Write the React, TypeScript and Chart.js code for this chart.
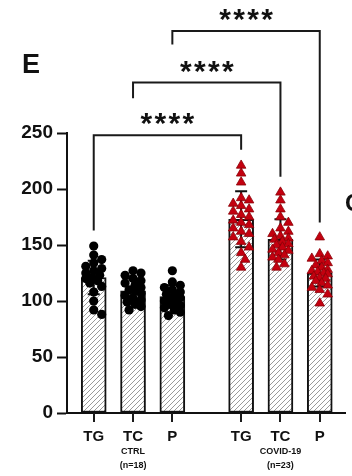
import { useEffect, useRef } from 'react';
import { Chart, registerables } from 'chart.js';

Chart.register(...registerables);

// ---- data ----
const categories = ['TG', 'TC', 'P', 'TG', 'TC', 'P'];
const groupNames = ['CTRL', 'COVID-19'];
const groupSizes = ['(n=18)', '(n=23)'];
const means = [121, 109, 104, 173, 155, 125];
const sds = [15, 11, 10, 25, 18, 12];

const ctrlTG = [149, 141, 137, 134, 131, 129, 127, 125, 123, 121, 120, 118, 116, 113, 108, 100, 92, 88];
const ctrlTC = [127, 125, 123, 120, 118, 116, 114, 112, 110, 109, 107, 105, 103, 101, 99, 97, 95, 92];
const ctrlP = [127, 117, 114, 112, 110, 108, 106, 105, 103, 102, 100, 99, 97, 96, 94, 92, 90, 87];
const covTG = [221, 214, 206, 192, 190, 187, 185, 182, 180, 177, 175, 172, 170, 168, 165, 162, 160, 157, 153, 148, 143, 137, 130];
const covTC = [197, 190, 182, 175, 170, 165, 162, 160, 158, 156, 155, 153, 151, 150, 148, 146, 145, 143, 141, 139, 137, 133, 130];
const covP = [157, 142, 140, 138, 136, 134, 132, 130, 128, 127, 126, 125, 124, 122, 121, 120, 118, 116, 114, 112, 110, 106, 98];
const pointSets = [ctrlTG, ctrlTC, ctrlP, covTG, covTC, covP];

const yTicks = [0, 50, 100, 150, 200, 250];

// significance comparisons (category indexes), bracket level and leg ends in y units
const bracketPairs = [[0, 3], [1, 4], [2, 5]];
const bracketLevels = [248, 295, 341];
const bracketLeftEnds = [163, 281, 329];
const bracketRightEnds = [235, 211, 170];
const bracketLabels = ['****', '****', '****'];

const panelLetter = 'E';

// ---- helpers ----
const GROUP_STEP = 3.75;
const slot = (k: number) => Math.floor(k / 3) * GROUP_STEP + (k % 3) + 1;
const positions = categories.map((_, k) => slot(k));

const PX_PER_X = 39.6;
const PX_PER_Y = 1.12;
function swarm(values: number[]): number[] {
  const placed: { x: number; y: number }[] = [];
  const cands = [0, 4, -4, 8, -8, 2, -2, 6, -6];
  return values.map((v) => {
    const y = v * PX_PER_Y;
    let best = 0;
    let bestD = -1;
    for (const c of cands) {
      let md = Infinity;
      for (const p of placed) md = Math.min(md, Math.hypot(p.x - c, p.y - y));
      if (md >= 7) { best = c; bestD = md; break; }
      if (md > bestD) { bestD = md; best = c; }
    }
    placed.push({ x: best, y });
    return best / PX_PER_X;
  });
}

const FONT = '"Liberation Sans", Arial, Helvetica, sans-serif';

function makeHatch(): CanvasPattern | string {
  const c = document.createElement('canvas');
  c.width = 5;
  c.height = 5;
  const g = c.getContext('2d');
  if (!g) return '#ccc';
  g.fillStyle = '#ffffff';
  g.fillRect(0, 0, 5, 5);
  g.strokeStyle = '#9a9a9a';
  g.lineWidth = 1;
  g.beginPath();
  g.moveTo(-1, 6); g.lineTo(6, -1);
  g.moveTo(-1, 1); g.lineTo(1, -1);
  g.moveTo(4, 6); g.lineTo(6, 4);
  g.stroke();
  return g.createPattern(c, 'repeat') || '#ccc';
}

export default function App() {
  const ref = useRef<HTMLCanvasElement | null>(null);

  useEffect(() => {
    if (!ref.current) return;
    const hatch = makeHatch();

    const errorBars = {
      id: 'errorBars',
      afterDatasetDraw(chart: any, args: any) {
        if (args.index !== 0) return;
        const { ctx, scales } = chart;
        ctx.save();
        ctx.strokeStyle = '#111';
        ctx.lineWidth = 2;
        means.forEach((m, k) => {
          const x = scales.x.getPixelForValue(positions[k]);
          const yt = scales.y.getPixelForValue(m + sds[k]);
          const yb = scales.y.getPixelForValue(m - sds[k]);
          ctx.beginPath();
          ctx.moveTo(x, yt); ctx.lineTo(x, yb);
          ctx.moveTo(x - 6, yt); ctx.lineTo(x + 6, yt);
          ctx.moveTo(x - 6, yb); ctx.lineTo(x + 6, yb);
          ctx.stroke();
        });
        ctx.restore();
      },
    };

    const extras = {
      id: 'extras',
      afterDraw(chart: any) {
        const { ctx, scales, chartArea } = chart;
        const xs = scales.x;
        const ys = scales.y;
        ctx.save();
        ctx.fillStyle = '#111';
        ctx.strokeStyle = '#1a1a1a';
        // x tick marks
        ctx.lineWidth = 2;
        ctx.beginPath();
        positions.forEach((p) => {
          const x = Math.round(xs.getPixelForValue(p));
          ctx.moveTo(x, chartArea.bottom);
          ctx.lineTo(x, chartArea.bottom + 9);
        });
        ctx.stroke();
        // group labels
        ctx.textAlign = 'center';
        ctx.textBaseline = 'middle';
        ctx.font = `bold 9px ${FONT}`;
        groupNames.forEach((name, g) => {
          const x = xs.getPixelForValue(positions[g * 3 + 1]);
          ctx.fillText(name, x, 452);
          ctx.fillText(groupSizes[g], x, 466);
        });
        // brackets
        ctx.lineWidth = 2;
        bracketPairs.forEach(([a, b], i) => {
          const xa = xs.getPixelForValue(positions[a]);
          const xb = xs.getPixelForValue(positions[b]);
          const yl = ys.getPixelForValue(bracketLevels[i]);
          ctx.beginPath();
          ctx.moveTo(xa, ys.getPixelForValue(bracketLeftEnds[i]));
          ctx.lineTo(xa, yl);
          ctx.lineTo(xb, yl);
          ctx.lineTo(xb, ys.getPixelForValue(bracketRightEnds[i]));
          ctx.stroke();
          // stars
          ctx.font = `bold 30px ${FONT}`;
          ctx.textAlign = 'center';
          ctx.textBaseline = 'alphabetic';
          const m = ctx.measureText('*');
          const cy = yl - 16;
          const base = cy + (m.actualBoundingBoxAscent - m.actualBoundingBoxDescent) / 2;
          const label = bracketLabels[i];
          const n = label.length;
          const step = 14;
          const cx = (xa + xb) / 2;
          for (let s = 0; s < n; s++) {
            ctx.fillText(label[s], cx + (s - (n - 1) / 2) * step, base);
          }
        });
        // panel letters
        ctx.textAlign = 'left';
        ctx.textBaseline = 'middle';
        ctx.font = `bold 27px ${FONT}`;
        ctx.fillText(panelLetter, 22, 66);
        ctx.font = `bold 24px ${FONT}`;
        ctx.fillText('C', 345, 204);
        ctx.restore();
      },
    };

    const barData = means.map((m, k) => ({ x: positions[k], y: m }));
    const pointDatasets = pointSets.map((vals, k) => {
      const offs = swarm(vals);
      const covid = k >= 3;
      return {
        type: 'scatter' as const,
        order: 1,
        data: vals.map((v, j) => ({ x: positions[k] + offs[j], y: v })),
        pointStyle: covid ? 'triangle' : 'circle',
        pointRadius: covid ? 5.5 : 4.6,
        backgroundColor: covid ? '#c4000f' : '#000000',
        borderColor: covid ? '#8a0008' : '#000000',
        borderWidth: covid ? 0.8 : 0,
        pointHoverRadius: 0,
      };
    });

    const chart = new Chart(ref.current, {
      type: 'bar',
      data: {
        datasets: [
          {
            type: 'bar',
            order: 2,
            data: barData as any,
            backgroundColor: hatch as any,
            borderColor: '#111',
            borderWidth: 2,
            borderSkipped: false,
            barThickness: 25,
          },
          ...(pointDatasets as any),
        ],
      },
      options: {
        animation: false,
        responsive: false,
        maintainAspectRatio: false,
        layout: { padding: { top: 133, right: 4, left: 0, bottom: 0 } },
        plugins: { legend: { display: false }, tooltip: { enabled: false } },
        scales: {
          x: {
            type: 'linear',
            min: 0.32,
            max: 7.41,
            offset: false,
            afterBuildTicks: (s: any) => {
              s.ticks = positions.map((v) => ({ value: v }));
            },
            afterFit: (s: any) => { s.height = 63; },
            ticks: {
              autoSkip: false,
              maxRotation: 0,
              color: '#111',
              padding: 15,
              font: { family: FONT, size: 15, weight: 'bold' },
              callback: (_v: any, i: number) => categories[i],
            },
            grid: { offset: false, drawOnChartArea: false, drawTicks: false },
            border: { color: '#111', width: 2 },
          },
          y: {
            min: 0,
            max: 250,
            afterBuildTicks: (s: any) => {
              s.ticks = yTicks.map((v) => ({ value: v }));
            },
            afterFit: (s: any) => { s.width = 67; },
            ticks: {
              color: '#111',
              padding: 4,
              font: { family: FONT, size: 19, weight: 'bold' },
            },
            grid: { drawOnChartArea: false, drawTicks: true, tickLength: 10, tickWidth: 2, tickColor: '#111' },
            border: { color: '#111', width: 2 },
          },
        },
      } as any,
      plugins: [errorBars, extras],
    });
    return () => chart.destroy();
  }, []);

  return (
    <div style={{ position: 'fixed', left: 0, top: 0, width: 352, height: 476, background: '#fff' }}>
      <canvas ref={ref} width={352} height={476} style={{ display: 'block', width: 352, height: 476 }} />
    </div>
  );
}
